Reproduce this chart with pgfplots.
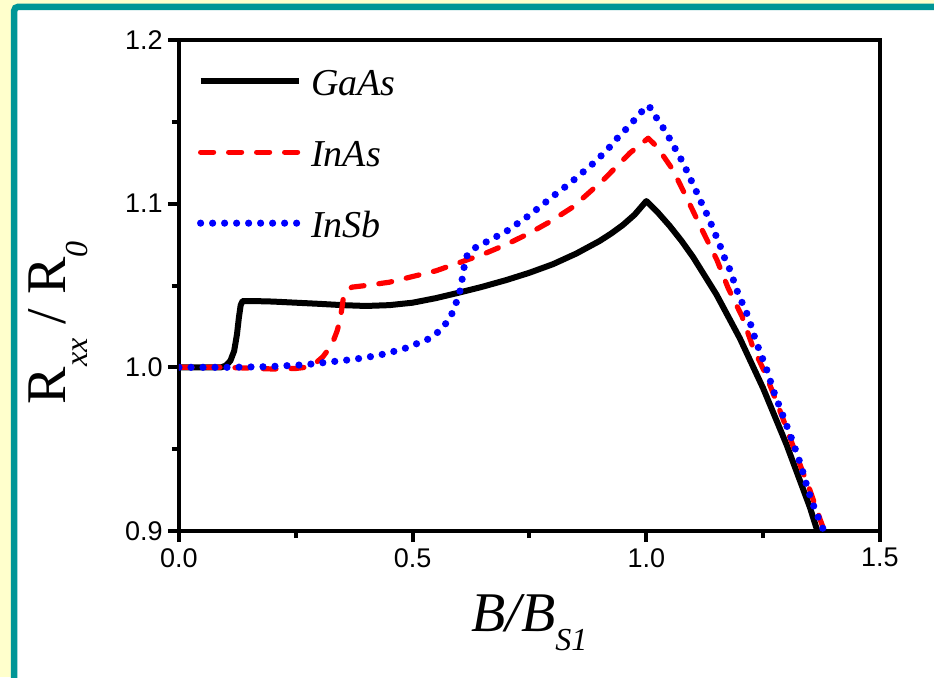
\documentclass[border=0pt]{standalone}
\usepackage{fontspec}
\setmainfont{Liberation Serif}
\setsansfont{Liberation Sans}
\usepackage{pgfplots}
\pgfplotsset{compat=1.18}
\definecolor{bgyellow}{RGB}{255,255,204}
\definecolor{frameteal}{RGB}{0,150,150}

\begin{document}
\begin{tikzpicture}
% slide panel behind the chart
\begin{scope}
\clip (-89.5pt,-73pt) rectangle (377.5pt,265.5pt);
\fill[bgyellow] (-89.5pt,-73pt) rectangle (377.5pt,265.5pt);
\draw[frameteal, line width=3.25pt, fill=white, rounded corners=2pt] (-82.4pt,-100pt) rectangle (400pt,262.1pt);
\end{scope}

\begin{axis}[
  at={(0,0)}, anchor=south west,
  width=350.5pt, height=245.5pt, scale only axis,
  xmin=0, xmax=1.5, ymin=0.9, ymax=1.2,
  xtick={0,0.5,1,1.5}, ytick={0.9,1.0,1.1,1.2},
  minor x tick num=1, minor y tick num=1,
  xtick pos=bottom, ytick pos=left,
  tick align=outside,
  major tick length=5.5pt, minor tick length=3.5pt,
  every tick/.style={black, line width=2pt},
  axis line style={line width=2.2pt, line join=miter},
  /pgf/number format/.cd, fixed, fixed zerofill, precision=1, assume math mode=true,
  /pgfplots/.cd,
  tick label style={font=\sffamily\fontsize{13.5}{15}\selectfont, inner sep=0pt},
  xticklabel style={anchor=north, yshift=-3pt},
  yticklabel style={anchor=east, xshift=-8pt+5.5pt},
  xlabel={\fontsize{28}{30}\selectfont\itshape B/B\raisebox{-9.5pt}{\fontsize{16}{16}\selectfont S1}},
  xlabel style={at={(axis description cs:0.5,0)}, anchor=base, yshift=-50pt},
  ylabel={\fontsize{28}{30}\selectfont R\raisebox{-11pt}{\fontsize{16}{16}\selectfont\itshape xx} / R\raisebox{-11pt}{\fontsize{16}{16}\selectfont\itshape 0}},
  ylabel style={at={(axis description cs:-0.1626,0.424)}, anchor=base},
  legend style={draw=none, fill=none, inner sep=0pt, outer sep=0pt,
    at={(axis description cs:0.0257,0.939)}, anchor=north west,
    row sep=19.5pt,
    nodes={inner sep=0pt, text height=13pt, text depth=3pt},
    font=\fontsize{19}{21}\selectfont\itshape},
  legend cell align=left,
  legend image code/.code={\draw[#1] (0pt,2.4pt) -- (49pt,2.4pt); \path (53.5pt,2.4pt);},
]
\addplot[black, line width=3pt, line join=round] coordinates {
(0,1.0) (0.05,1.0) (0.09,1.0) (0.1,1.001) (0.11,1.004) (0.118,1.01) (0.124,1.02) (0.128,1.03) (0.132,1.038) (0.136,1.0405)
(0.16,1.0405) (0.2,1.0402) (0.25,1.0395) (0.3,1.0388) (0.35,1.038) (0.4,1.0375) (0.45,1.038) (0.5,1.0395) (0.55,1.0423)
(0.6,1.0457) (0.65,1.0493) (0.7,1.0533) (0.75,1.0578) (0.8,1.063) (0.85,1.0695) (0.9,1.0772) (0.925,1.0818) (0.95,1.0870)
(0.975,1.0933) (1.0,1.1016)
(1.025,1.0945) (1.05,1.0864) (1.075,1.0774) (1.1,1.0674) (1.15,1.0445) (1.2,1.0178) (1.25,0.9872) (1.3,0.9528) (1.35,0.9145) (1.366,0.9)
};
\addplot[red, line width=2.6pt, line cap=round, line join=round, dash pattern=on 6.5pt off 7.5pt] coordinates {
(0,1.0) (0.1,1.0) (0.15,0.9995) (0.2,0.999) (0.25,0.9993) (0.27,1.0) (0.29,1.002) (0.308,1.0065) (0.32,1.011) (0.33,1.016)
(0.338,1.022) (0.344,1.028) (0.348,1.035) (0.352,1.043) (0.36,1.047) (0.37,1.049) (0.4,1.050) (0.45,1.052) (0.5,1.0555)
(0.55,1.059) (0.6,1.064) (0.65,1.069) (0.7,1.075) (0.75,1.082) (0.794,1.089) (0.843,1.098) (0.908,1.1145) (0.965,1.131)
(1.004,1.140) (1.023,1.1347) (1.057,1.1206) (1.089,1.102) (1.121,1.083) (1.151,1.0656) (1.175,1.0485) (1.205,1.031)
(1.228,1.0124) (1.254,0.9966) (1.28,0.978) (1.301,0.962) (1.325,0.9434) (1.35,0.925) (1.372,0.907) (1.381,0.9)
};
\addplot[blue, line width=3.6pt, line cap=round, line join=round, dash pattern=on 0pt off 6pt] coordinates {
(0,1.0) (0.1,1.0) (0.189,1.0004) (0.27,1.0016) (0.322,1.0033) (0.3745,1.0049) (0.4266,1.0073) (0.48,1.0112) (0.532,1.0171)
(0.5585,1.0224) (0.58,1.030) (0.5906,1.0375) (0.6,1.045) (0.605,1.0523) (0.61,1.061) (0.616,1.068) (0.63,1.0725) (0.66,1.077)
(0.7,1.083) (0.75,1.093) (0.809,1.1065) (0.837,1.1126) (0.862,1.1187) (0.89,1.1255) (0.916,1.1328) (0.94,1.1407) (0.965,1.148)
(0.987,1.1554) (1.005,1.160) (1.025,1.151) (1.042,1.1438) (1.057,1.136) (1.072,1.1285) (1.085,1.121) (1.098,1.113) (1.111,1.105)
(1.121,1.0986) (1.134,1.091) (1.145,1.083) (1.156,1.076) (1.164,1.069) (1.177,1.061) (1.196,1.0454) (1.218,1.031) (1.235,1.0155)
(1.256,1.0) (1.273,0.985) (1.293,0.970) (1.312,0.9556) (1.331,0.940) (1.346,0.925) (1.361,0.913) (1.38,0.9)
};
\legend{GaAs, InAs, InSb}
\end{axis}
\pgfresetboundingbox
\path[use as bounding box] (-89.5pt,-73pt) rectangle (377.5pt,265.5pt);
\end{tikzpicture}
\end{document}
